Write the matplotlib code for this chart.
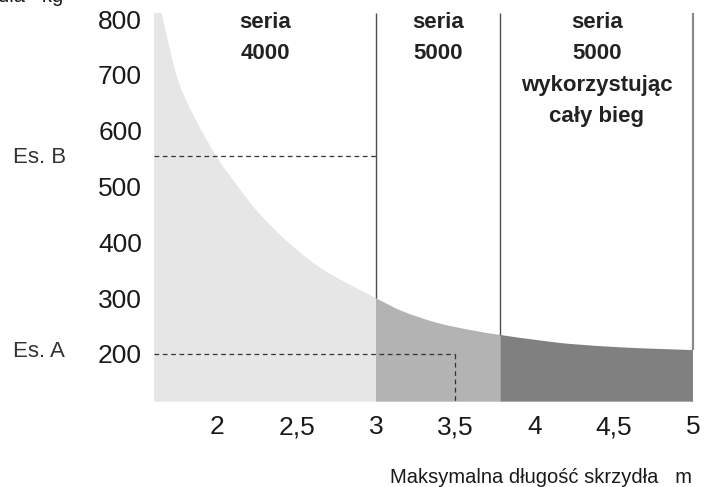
import numpy as np
import matplotlib
matplotlib.use("Agg")
import matplotlib.pyplot as plt
from matplotlib import font_manager as fm
from matplotlib.path import Path
from matplotlib.patches import PathPatch
from matplotlib.transforms import blended_transform_factory

plt.rcParams['font.family'] = ['Liberation Sans', 'DejaVu Sans']
plt.rcParams['lines.scale_dashes'] = False

# ---- data ----
length_m = [1.60, 1.648, 1.743, 1.847, 1.995, 2.121, 2.268, 2.478, 2.689, 3.0,
            3.172, 3.383, 3.593, 3.785, 4.014, 4.224, 4.539, 4.792, 5.0]
weight_kg = [865, 810, 698, 628, 553, 503, 450, 392, 347, 300,
             276, 256, 243, 234, 225, 218, 212, 209, 207]
series_edges = [1.60, 3.0, 3.785, 5.0]
series_labels = [["seria", "4000"],
                 ["seria", "5000"],
                 ["seria", "5000", "wykorzystując", "cały bieg"]]
series_colors = ["#e6e6e6", "#b3b3b3", "#808080"]
x_ticks = [2, 2.5, 3, 3.5, 4, 4.5, 5]
x_tick_labels = ["2", "2,5", "3", "3,5", "4", "4,5", "5"]
y_ticks = [200, 300, 400, 500, 600, 700, 800]
example_A = (3.5, 200)
example_B = (3.0, 555)

# pick the regular-width Liberation Sans Bold file explicitly
bold_fp = None
for f in fm.fontManager.ttflist:
    if f.name == 'Liberation Sans' and f.weight in (700, 'bold') and f.style == 'normal':
        bold_fp = fm.FontProperties(fname=f.fname)
        break
if bold_fp is None:
    bold_fp = fm.FontProperties(family='DejaVu Sans', weight='bold')

W, H = 709, 487
fig = plt.figure(figsize=(W / 100, H / 100), dpi=100)
ax_l, ax_r, ax_t, ax_b = 154, 700, 13, 401.7
ax = fig.add_axes([ax_l / W, 1 - ax_b / H, (ax_r - ax_l) / W, (ax_b - ax_t) / H])
px_per_x = 158.5
xmin = 3 - (376 - ax_l) / px_per_x
xmax = 3 + (ax_r - 376) / px_per_x
px_per_y = 0.5583
ymax = 800 + (19 - ax_t) / px_per_y
ymin = 800 - (ax_b - 19) / px_per_y
ax.set_xlim(xmin, xmax)
ax.set_ylim(ymin, ymax)

P = np.column_stack([length_m, weight_kg]).astype(float)
n = len(P)


def smooth_segment_path(i0, i1):
    """Cubic Bezier (Catmull-Rom) through read points i0..i1, closed to the baseline."""
    verts = [tuple(P[i0])]
    codes = [Path.MOVETO]
    for i in range(i0, i1):
        pm = P[max(i - 1, 0)]
        p0 = P[i]
        p1 = P[i + 1]
        pp = P[min(i + 2, n - 1)]
        c1 = p0 + (p1 - pm) / 6.0
        c2 = p1 - (pp - p0) / 6.0
        verts += [tuple(c1), tuple(c2), tuple(p1)]
        codes += [Path.CURVE4] * 3
    verts += [(P[i1, 0], ymin), (P[i0, 0], ymin), tuple(P[i0])]
    codes += [Path.LINETO, Path.LINETO, Path.CLOSEPOLY]
    return Path(verts, codes)


xs = P[:, 0]
for i in range(3):
    i0 = int(np.argmin(np.abs(xs - series_edges[i])))
    i1 = int(np.argmin(np.abs(xs - series_edges[i + 1])))
    ax.add_patch(PathPatch(smooth_segment_path(i0, i1), facecolor=series_colors[i],
                           edgecolor='none', lw=0))

# vertical separators from curve top to axes top
line_cols = ["#4d4d4d", "#4d4d4d", "#8a8a8a"]
line_w = [1.0, 1.0, 1.6]
for e, c, lw in zip(series_edges[1:], line_cols, line_w):
    v = np.interp(e, xs, P[:, 1])
    ax.plot([e, e], [v, ymax], color=c, lw=lw, clip_on=False, solid_capstyle='butt')

dash = (0, (3.4, 2.6))
ax.plot([xmin, example_B[0]], [example_B[1]] * 2, color="#333333", lw=0.9, ls=dash)
ax.plot([xmin, example_A[0]], [example_A[1]] * 2, color="#333333", lw=0.9, ls=dash)
ax.plot([example_A[0]] * 2, [example_A[1], ymin], color="#333333", lw=0.9, ls=dash)

for s in ax.spines.values():
    s.set_visible(False)
ax.set_xticks(x_ticks)
ax.set_xticklabels(x_tick_labels)
ax.set_yticks(y_ticks)
ax.set_yticklabels([str(t) for t in y_ticks])
ax.tick_params(length=0, labelsize=19, labelcolor="#1a1a1a")
ax.tick_params(axis='y', pad=8.6)
ax.tick_params(axis='x', pad=9.6)

# series headers
tr = blended_transform_factory(ax.transData, fig.transFigure)
baselines = [28, 59, 91, 122]
hdr_fp = bold_fp.copy()
hdr_fp.set_size(16)
for i, lines in enumerate(series_labels):
    cx = (series_edges[i] + series_edges[i + 1]) / 2
    for j, t in enumerate(lines):
        ax.text(cx, 1 - baselines[j] / H, t, transform=tr, ha='center', va='baseline',
                fontproperties=hdr_fp, color="#222222")

fig.text(13 / W, 1 - 162.7 / H, "Es. B", fontsize=16, color="#333333", va='baseline', ha='left')
fig.text(13 / W, 1 - 357.3 / H, "Es. A", fontsize=16, color="#333333", va='baseline', ha='left')

fig.text(692 / W, 1 - 483 / H, "Maksymalna długość skrzydła   m", fontsize=14.5,
         color="#1a1a1a", ha='right', va='baseline')
fig.text(63 / W, 1 - 2 / H, "Maksymalna waga skrzydła   kg", fontsize=14.5,
         color="#1a1a1a", ha='right', va='baseline')

fig.savefig("out.png", dpi=100)
